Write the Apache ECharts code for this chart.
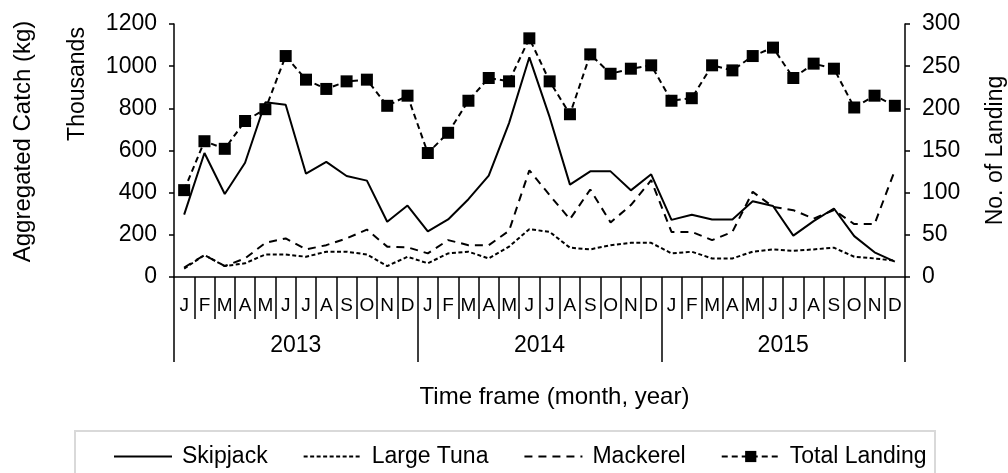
<!DOCTYPE html>
<html>
<head>
<meta charset="utf-8">
<script src="https://cdn.jsdelivr.net/npm/echarts@6/dist/echarts.min.js"></script>
<style>
html,body{margin:0;padding:0;background:#fff;}
#chart{width:1008px;height:473px;}
</style>
</head>
<body>
<div id="chart"></div>
<script>
var months = ['J','F','M','A','M','J','J','A','S','O','N','D',
              'J','F','M','A','M','J','J','A','S','O','N','D',
              'J','F','M','A','M','J','J','A','S','O','N','D'];
var years = ['2013','2014','2015'];

// Aggregated catch (kg, thousands)
var skipjack = [296,588,394,542,829,817,490,546,479,457,262,339,
                216,273,369,481,730,1042,758,438,501,501,411,487,
                271,295,273,273,359,337,196,265,325,194,117,73];
var largeTuna = [40,104,52,65,107,107,96,120,120,107,52,96,
                 65,112,120,88,144,227,214,139,131,151,162,162,
                 112,120,88,88,120,131,124,131,139,96,88,77];
var mackerel = [45,104,52,88,162,183,131,151,183,225,144,141,
                112,175,151,151,219,506,388,274,415,259,341,459,
                214,214,175,214,404,333,317,277,317,251,251,506];
// Number of landings (right axis)
var totalLanding = [103,161,152,185,199,262,234,223,232,234,203,215,
                    147,171,209,236,232,283,232,193,264,241,247,251,
                    209,212,251,245,262,272,236,253,247,201,215,203];

var FONT = "'Liberation Sans', Arial, sans-serif";
var chart = echarts.init(document.getElementById('chart'));
var black = '#000';
function plain(v) { return String(v); }

chart.setOption({
  backgroundColor: '#fff',
  animation: false,
  textStyle: {fontFamily: FONT, color: black},
  grid: {left: 174, right: 103, top: 24, bottom: 196, containLabel: false, outerBoundsMode: 'none'},
  legend: {
    left: 113, top: 445, padding: 0,
    itemWidth: 58, itemHeight: 14, itemGap: 35,
    textStyle: {fontFamily: FONT, fontSize: 23, color: black, padding: [0, 0, 0, 5]},
    data: [
      {name: 'Skipjack', itemStyle: {opacity: 0}},
      {name: 'Large Tuna', itemStyle: {opacity: 0}},
      {name: 'Mackerel', itemStyle: {opacity: 0}},
      {name: 'Total Landing'}
    ]
  },
  graphic: [
    {type: 'rect', shape: {x: 75, y: 431, width: 860, height: 60},
     style: {fill: 'none', stroke: '#d9d9d9', lineWidth: 2}, silent: true, z: -1},
    {type: 'text', x: 78, y: 84, rotation: Math.PI / 2,
     style: {text: 'Thousands', font: '23px ' + FONT, fill: black,
             textAlign: 'center', textVerticalAlign: 'middle'}}
  ],
  xAxis: [
    {
      type: 'category', data: months, position: 'bottom', boundaryGap: true,
      axisLine: {show: true, lineStyle: {color: black, width: 1.5}},
      axisTick: {show: true, interval: 0, length: 42, lineStyle: {color: black, width: 1.5}},
      axisLabel: {interval: 0, fontSize: 19, color: black, margin: 19, fontFamily: FONT},
      splitLine: {show: false}
    },
    {
      type: 'category', data: years, position: 'bottom', boundaryGap: true,
      axisLine: {show: false},
      axisTick: {show: true, interval: 0, length: 85, lineStyle: {color: black, width: 1.5}},
      axisLabel: {interval: 0, fontSize: 23, color: black, margin: 57, fontFamily: FONT},
      splitLine: {show: false},
      name: 'Time frame (month, year)', nameLocation: 'middle', nameGap: 108,
      nameTextStyle: {fontSize: 24, color: black, fontFamily: FONT, padding: [0, 0, 0, 30]}
    }
  ],
  yAxis: [
    {
      type: 'value', min: 0, max: 1200, interval: 200, position: 'left',
      axisLine: {show: true, lineStyle: {color: black, width: 1.5}},
      axisTick: {show: true, length: 5, lineStyle: {color: black, width: 1.5}},
      axisLabel: {fontSize: 23, color: black, margin: 17, fontFamily: FONT, formatter: plain},
      splitLine: {show: false},
      name: 'Aggregated Catch (kg)', nameLocation: 'middle', nameGap: 139,
      nameTextStyle: {fontSize: 24, color: black, fontFamily: FONT, padding: [0, 0, 0, 18]}
    },
    {
      type: 'value', min: 0, max: 300, interval: 50, position: 'right',
      axisLine: {show: true, lineStyle: {color: black, width: 1.5}},
      axisTick: {show: true, length: 5, lineStyle: {color: black, width: 1.5}},
      axisLabel: {fontSize: 23, color: black, margin: 17, fontFamily: FONT, formatter: plain},
      splitLine: {show: false},
      name: 'No. of Landing', nameLocation: 'middle', nameGap: 79,
      nameTextStyle: {fontSize: 23, color: black, fontFamily: FONT}
    }
  ],
  series: [
    {
      name: 'Skipjack', type: 'line', data: skipjack, xAxisIndex: 0, yAxisIndex: 0,
      symbol: 'none', itemStyle: {color: black},
      lineStyle: {color: black, width: 2, type: 'solid'}
    },
    {
      name: 'Large Tuna', type: 'line', data: largeTuna, xAxisIndex: 0, yAxisIndex: 0,
      symbol: 'none', itemStyle: {color: black},
      lineStyle: {color: black, width: 2, type: [4, 2.5]}
    },
    {
      name: 'Mackerel', type: 'line', data: mackerel, xAxisIndex: 0, yAxisIndex: 0,
      symbol: 'none', itemStyle: {color: black},
      lineStyle: {color: black, width: 2, type: [8, 6]}
    },
    {
      name: 'Total Landing', type: 'line', data: totalLanding, xAxisIndex: 0, yAxisIndex: 1,
      symbol: 'rect', symbolSize: 12, itemStyle: {color: black},
      lineStyle: {color: black, width: 2, type: [6, 4]}
    }
  ]
});
</script>
</body>
</html>
